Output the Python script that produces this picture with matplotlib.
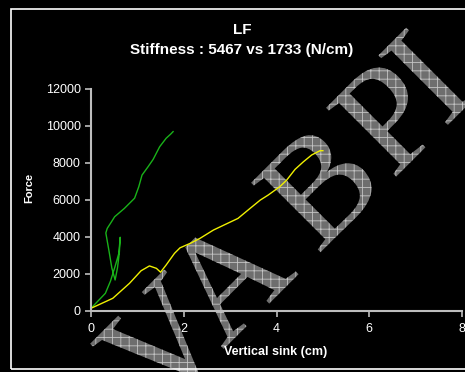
import matplotlib
matplotlib.use("Agg")
import numpy as np
import matplotlib.pyplot as plt
from matplotlib.patches import Rectangle, PathPatch
from matplotlib.textpath import TextPath
from matplotlib.font_manager import FontProperties
from matplotlib.transforms import Affine2D

# data
green_x = [0, 0.31, 0.42, 0.52, 0.60, 0.63, 0.61, 0.57, 0.52, 0.45, 0.39, 0.32, 0.35,
           0.44, 0.51, 0.72, 0.94, 1.03, 1.10, 1.23, 1.34, 1.48, 1.62, 1.72, 1.77]
green_y = [130, 940, 1600, 2400, 3100, 3970, 3100, 2300, 1660, 2300, 3200, 4200, 4450,
           4800, 5080, 5530, 6080, 6700, 7330, 7780, 8180, 8860, 9320, 9550, 9680]

yellow_x = [0, 0.47, 0.83, 1.08, 1.26, 1.41, 1.50, 1.62, 1.80, 1.92, 2.14, 2.35, 2.64,
            3.17, 3.43, 3.65, 3.82, 4.07, 4.22, 4.40, 4.58, 4.76, 4.94, 5.0]
yellow_y = [130, 670, 1480, 2160, 2420, 2290, 2080, 2470, 3100, 3400, 3640, 3910, 4360,
            4990, 5530, 5980, 6250, 6700, 7060, 7640, 8050, 8420, 8650, 8650]

x_ticks = [0, 2, 4, 6, 8]
y_ticks = [0, 2000, 4000, 6000, 8000, 10000, 12000]

title = "LF"
subtitle = "Stiffness : 5467 vs 1733 (N/cm)"
W, H = 465, 372

# watermark letters and where each one starts along the 45 degree baseline (px)
wm_letters = ["V", "A", "B", "P", "I"]
wm_starts = [-181, -90, 44, 150, 223]
wm_baseline = 405

plt.rcParams['font.family'] = ['Liberation Sans', 'DejaVu Sans']
plt.rcParams['hatch.linewidth'] = 0.6

fig = plt.figure(figsize=(W / 100, H / 100), dpi=100, facecolor='black')
ax = fig.add_axes([91 / W, 1 - 310.7 / H, (462 - 91) / W, (310.7 - 88.7) / H])
ax.set_facecolor('none')
ax.set_zorder(1)

# watermark behind the chart
fp = FontProperties(family='Liberation Serif')
r2 = np.sqrt(2)
for ch, t in zip(wm_letters, wm_starts):
    x0 = (t + wm_baseline) / r2
    y0 = H - (wm_baseline - t) / r2
    tp = TextPath((0, 0), ch, size=150, prop=fp)
    tr = Affine2D().rotate_deg(45).translate(x0, y0).scale(1 / W, 1 / H) + fig.transFigure
    fig.add_artist(PathPatch(tp, transform=tr, facecolor='#6e6e6e', edgecolor='#c4c4c4',
                             linewidth=0, hatch='++', zorder=0))

# frame around the chart
fig.add_artist(Rectangle((11 / W, 3 / H), 1.0, (363 - 3) / H, transform=fig.transFigure,
                         fill=False, edgecolor='white', linewidth=1.2, zorder=0.5))

ax.plot(green_x, green_y, color='#19b219', linewidth=1.0)
ax.plot(yellow_x, yellow_y, color='#f0f000', linewidth=1.0)

ax.set_xlim(0, 8)
ax.set_ylim(0, 12000)
ax.set_xticks(x_ticks)
ax.set_yticks(y_ticks)
for s in ['top', 'right']:
    ax.spines[s].set_visible(False)
for s in ['left', 'bottom']:
    ax.spines[s].set_color('#bdbdbd')
    ax.spines[s].set_linewidth(1.5)
ax.tick_params(colors='#bdbdbd', labelcolor='white', labelsize=9, length=4, width=1.2)
ax.tick_params(axis='x', pad=5)
for lab in ax.get_xticklabels() + ax.get_yticklabels():
    lab.set_clip_on(False)

fig.text(242 / W, 1 - 30 / H, title, color='white', fontsize=11, fontweight='bold',
         ha='center', va='center')
fig.text(242 / W, 1 - 50 / H, subtitle, color='white', fontsize=11, fontweight='bold',
         ha='center', va='center')
fig.text(276 / W, 1 - 352 / H, "Vertical sink (cm)", color='white', fontsize=9,
         fontweight='bold', ha='center', va='center')
fig.text(29 / W, 184 / H, "Force", color='white', fontsize=8, fontweight='bold',
         rotation=90, ha='center', va='center')

fig.savefig("out.png", dpi=100, facecolor='black')
